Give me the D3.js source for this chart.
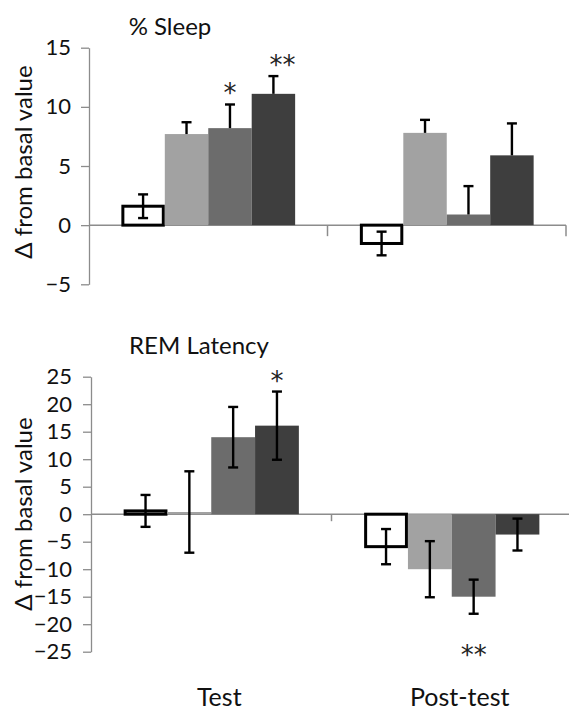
<!DOCTYPE html>
<html><head><meta charset="utf-8">
<script src="https://cdn.jsdelivr.net/npm/d3@7"></script>
<style>
body{margin:0;background:#fff;}
svg{display:block;font-family:Lato,"Open Sans",sans-serif;}
</style></head>
<body><svg id="c" width="569" height="710"></svg>
<script>
const categories = ["Test", "Post-test"];
const series = ["s1", "s2", "s3", "s4"];
const colors = ["#ffffff", "#a2a2a2", "#6c6c6c", "#3e3e3e"];

const sleepValues = [[1.6, 7.7, 8.2, 11.1], [-1.55, 7.8, 0.9, 5.9]];
const sleepErrors = [[1.0, 1.0, 2.0, 1.5], [1.0, 1.1, 2.4, 2.7]];
const sleepStars = [["", "", "*", "**"], ["", "", "", ""]];
const sleepTicks = [-5, 0, 5, 10, 15];

const remValues = [[0.6, 0.4, 14.0, 16.1], [-5.9, -10.0, -15.0, -3.7]];
const remErrors = [[2.9, 7.4, 5.5, 6.2], [3.2, 5.1, 3.1, 2.9]];
const remStars = [["", "", "", "*"], ["", "", "**", ""]];
const remTicks = [-25, -20, -15, -10, -5, 0, 5, 10, 15, 20, 25];

const svg = d3.select("#c");

function panel(opt) {
  const g = svg.append("g");
  const x0 = d3.scaleBand().domain(categories).range(opt.xRange).paddingInner(0).paddingOuter(0);
  const x1 = d3.scaleBand().domain(series).range([0, x0.bandwidth()]).paddingInner(0).paddingOuter(0.745);
  const y = d3.scaleLinear().domain(opt.yDomain).range(opt.yRange);

  // y axis
  const ax = g.append("g").attr("transform", `translate(${opt.xRange[0]},0)`)
    .call(d3.axisLeft(y).tickValues(opt.ticks).tickSize(8).tickPadding(opt.tickPad).tickSizeOuter(0));
  ax.select(".domain").attr("stroke", "#8c8c8c").attr("stroke-width", 1.3);
  ax.selectAll(".tick line").attr("stroke", "#8c8c8c").attr("stroke-width", 1.3);
  ax.selectAll(".tick text").attr("font-size", 22).attr("fill", "#111").attr("font-family", "Lato");

  // zero line
  g.append("line").attr("x1", opt.xRange[0]).attr("x2", opt.xRange[1])
    .attr("y1", y(0)).attr("y2", y(0)).attr("stroke", "#8c8c8c").attr("stroke-width", 1.5);
  // category separator ticks
  const sep = categories.map(c => x0(c) + x0.bandwidth());
  g.selectAll(".sep").data(sep).join("line")
    .attr("x1", d => d).attr("x2", d => d).attr("y1", y(0)).attr("y2", y(0) + opt.sepLen)
    .attr("stroke", "#8c8c8c").attr("stroke-width", 1.5);

  categories.forEach((cat, ci) => {
    const cg = g.append("g").attr("transform", `translate(${x0(cat)},0)`);
    const data = series.map((s, si) => ({s, si, v: opt.values[ci][si], e: opt.errors[ci][si], star: opt.stars[ci][si]}));
    // bars
    cg.selectAll("rect").data(data).join("rect")
      .attr("x", d => x1(d.s) + (d.si === 0 ? 1.5 : 0))
      .attr("width", d => x1.bandwidth() - (d.si === 0 ? 3 : 0))
      .attr("y", d => Math.min(y(d.v), y(0)))
      .attr("height", d => Math.abs(y(d.v) - y(0)))
      .attr("fill", d => colors[d.si])
      .attr("stroke", d => d.si === 0 ? "#000" : "none")
      .attr("stroke-width", 3);
    // error bars
    const eb = cg.selectAll(".eb").data(data).join("g").attr("class", "eb");
    const sign = d => d.v >= 0 ? 1 : -1;
    const lo = d => (opt.twoSided || d.si === 0) ? d.v - sign(d) * d.e : d.v;
    const hi = d => d.v + sign(d) * d.e;
    const cx = d => x1(d.s) + x1.bandwidth() / 2;
    eb.append("line").attr("x1", cx).attr("x2", cx).attr("y1", d => y(lo(d))).attr("y2", d => y(hi(d)))
      .attr("stroke", "#000").attr("stroke-width", 2.4);
    eb.append("line").attr("x1", d => cx(d) - 5).attr("x2", d => cx(d) + 5).attr("y1", d => y(hi(d))).attr("y2", d => y(hi(d)))
      .attr("stroke", "#000").attr("stroke-width", 2.4);
    eb.filter(d => opt.twoSided || d.si === 0).append("line")
      .attr("x1", d => cx(d) - 5).attr("x2", d => cx(d) + 5).attr("y1", d => y(lo(d))).attr("y2", d => y(lo(d)))
      .attr("stroke", "#000").attr("stroke-width", 2.4);
    // stars
    cg.selectAll(".star").data(data.filter(d => d.star)).join("text")
      .attr("x", d => cx(d) + (d.star.length > 1 && d.v > 0 && !opt.twoSided ? 9 : 0))
      .attr("y", d => d.v >= 0 ? y(hi(d)) - 2 : y(hi(d)) + opt.starBelow)
      .attr("text-anchor", "middle").attr("font-size", 26).attr("fill", "#222")
      .attr("font-family", "DejaVu Sans")
      .text(d => d.star);
  });

  // title
  g.append("text").attr("x", opt.titleX).attr("y", opt.titleY).attr("text-anchor", "middle")
    .attr("font-size", 24).attr("fill", "#111").text(opt.title);
  // y label
  g.append("text").attr("transform", `translate(${opt.ylabX},${opt.ylabY}) rotate(-90)`)
    .attr("text-anchor", "middle").attr("font-size", 24).attr("fill", "#111").text("Δ from basal value");
  return {x0, y};
}

panel({xRange: [89, 566], yDomain: [-5, 15], yRange: [284.3, 47.7], ticks: sleepTicks, tickPad: 10,
  values: sleepValues, errors: sleepErrors, stars: sleepStars, twoSided: false, sepLen: 11,
  title: "% Sleep", titleX: 170, titleY: 35, ylabX: 32, ylabY: 162, starBelow: 50});

const bottom = panel({xRange: [91, 572], yDomain: [-25, 25], yRange: [651.7, 376.7], ticks: remTicks, tickPad: 11,
  values: remValues, errors: remErrors, stars: remStars, twoSided: true, sepLen: 7,
  title: "REM Latency", titleX: 199, titleY: 354, ylabX: 32, ylabY: 514, starBelow: 50});

svg.selectAll(".xlab").data(categories).join("text")
  .attr("x", d => bottom.x0(d) + bottom.x0.bandwidth() / 2 + 8).attr("y", 706)
  .attr("text-anchor", "middle").attr("font-size", 25).attr("fill", "#111").text(d => d);
</script></body></html>
